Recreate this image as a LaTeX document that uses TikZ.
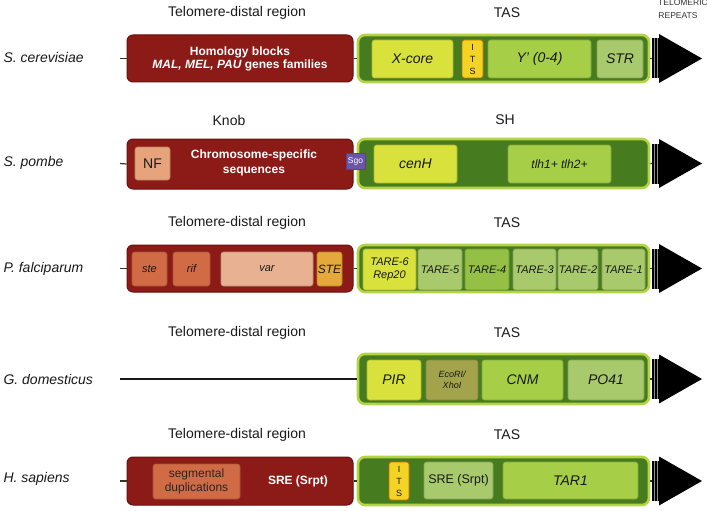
\documentclass[tikz,border=0pt]{standalone}
\usepackage{fontspec}
\setmainfont{Liberation Sans}
\definecolor{redfill}{HTML}{8C1B17}
\definecolor{reddraw}{HTML}{6A0F0C}
\definecolor{grfill}{HTML}{467C1F}
\definecolor{grdraw}{HTML}{B4D446}
\definecolor{ygreen}{HTML}{D9E13C}
\definecolor{mgreen}{HTML}{A6CE46}
\definecolor{pgreen}{HTML}{A8C96C}
\definecolor{dgreen}{HTML}{93C045}
\definecolor{itsyel}{HTML}{F3D424}
\definecolor{olive}{HTML}{A3A34B}
\definecolor{salmon}{HTML}{E7A37C}
\definecolor{rust}{HTML}{D06B46}
\definecolor{peach}{HTML}{E8B192}
\definecolor{steorg}{HTML}{E5A83A}
\definecolor{sgo}{HTML}{6B55A5}
\definecolor{linec}{HTML}{34361A}
\tikzset{
  redbox/.style={draw=reddraw, fill=redfill, line width=1pt, rounded corners=6pt, inner sep=0pt, align=center, text=white, font=\fontsize{12}{14}\selectfont\bfseries},
  grbox/.style={draw=grdraw, fill=grfill, line width=2.6pt, rounded corners=7pt, inner sep=0pt},
  inbox/.style={rounded corners=2.5pt, line width=0.6pt, inner sep=0pt, align=center, text=black!90, font=\fontsize{14}{16}\selectfont\itshape},
  yg/.style={inbox, fill=ygreen, draw=ygreen!80!black},
  mg/.style={inbox, fill=mgreen, draw=mgreen!80!black},
  pg/.style={inbox, fill=pgreen, draw=pgreen!80!black},
  dg/.style={inbox, fill=dgreen, draw=dgreen!80!black},
  itsbox/.style={inbox, fill=itsyel, draw=orange!80!black, font=\fontsize{9}{12}\selectfont},
  olbox/.style={inbox, fill=olive, draw=olive!80!black, font=\fontsize{9}{10.5}\selectfont\itshape},
  salbox/.style={inbox, fill=salmon, draw=salmon!80!black, font=\fontsize{14}{16}\selectfont},
  rustbox/.style={inbox, fill=rust, draw=rust!80!black, font=\fontsize{11}{13}\selectfont\itshape},
  peachbox/.style={inbox, fill=peach, draw=peach!80!black, font=\fontsize{11}{13}\selectfont\itshape},
  stebox/.style={inbox, fill=steorg, draw=steorg!80!black, font=\fontsize{12}{14}\selectfont\itshape},
  sgobox/.style={fill=sgo, draw=sgo!80!black, line width=0.4pt, inner sep=0pt, text=white, font=\fontsize{8.5}{9}\selectfont},
  head/.style={font=\fontsize{14}{16}\selectfont, text=black!90},
  species/.style={anchor=west, font=\fontsize{14}{16}\selectfont\itshape, text=black!90},
  conn/.style={draw=linec, line width=1.2pt},
  tare/.style={font=\fontsize{11}{13}\selectfont\itshape}
}
\newcommand{\mybox}[7][]{\node[#1, minimum width={#5-#3}, minimum height={#6-#4}] (#2) at ({(#3+#5)/2},{(#4+#6)/2}) {#7};}
\newcommand{\telarrow}[2]{%
  \coordinate (#1) at (652,#2);
  \fill[black] (652,#2-20) rectangle (659,#2+20);
  \draw[black!45, line width=0.5pt] (654.5,#2-20) -- (654.5,#2+20) (657,#2-20) -- (657,#2+20);
  \fill[black] (659,#2-24.5) -- (702,#2) -- (659,#2+24.5) -- cycle;
}
\begin{document}
\begin{tikzpicture}[x=1pt,y=-1pt]
\useasboundingbox (0,0) rectangle (707,511);

% ---------- header labels ----------
\node[font=\fontsize{8.5}{9}\selectfont, text=black!80] (telo1) at (683,3) {TELOMERIC};
\node[font=\fontsize{8.5}{9}\selectfont, text=black!80] (telo2) at (678,15.5) {REPEATS};

% ================= Row 1: S. cerevisiae =================
\node[species] (sp1) at (0,57) {S. cerevisiae};
\node[head] (h1a) at (237,13) {Telomere-distal region};
\node[head] (h1b) at (507,13) {TAS};
\coordinate (l1) at (120,58.5);
\telarrow{a1}{58.5}
\mybox[redbox]{r1}{127}{35}{353}{82}{Homology blocks\\[-1pt]{\itshape MAL, MEL, PAU} genes families}
\mybox[grbox]{g1}{358}{35}{649}{82}{}
\draw[conn] (l1) -- (r1.west) (r1.east) -- (g1.west) (g1.east) -- (a1);
\mybox[yg]{x1}{372}{40}{453}{78}{X-core}
\mybox[itsbox]{its1}{462}{40}{483}{78}{I\\T\\S}
\mybox[mg]{y1}{488}{40}{591}{78}{Y' (0-4)}
\mybox[pg]{str1}{597}{40}{643}{78}{STR}

% ================= Row 2: S. pombe =================
\node[species] (sp2) at (0,163) {S. pombe};
\node[head] (h2a) at (229,120) {Knob};
\node[head] (h2b) at (505,120) {SH};
\coordinate (l2) at (120,163.5);
\telarrow{a2}{163.5}
\mybox[redbox]{r2}{127}{139}{353}{189}{}
\mybox[grbox]{g2}{358}{139}{649}{188}{}
\draw[conn] (l2) -- (r2.west) (g2.east) -- (a2);
\mybox[salbox]{nf}{135}{147}{170}{180}{NF}
\node[text=white, align=center, font=\fontsize{12}{15}\selectfont\bfseries] (css) at (254,163) {Chromosome-specific\\sequences};
\mybox[yg]{cenh}{374}{145}{457}{183}{cenH}
\mybox[mg, font=\fontsize{12}{14}\selectfont\itshape]{tlh}{508}{145}{611}{183}{tlh1+ tlh2+}
\mybox[sgobox]{sgo}{346}{153}{365}{169}{Sgo}

% ================= Row 3: P. falciparum =================
\node[species] (sp3) at (0,269) {P. falciparum};
\node[head] (h3a) at (237,223) {Telomere-distal region};
\node[head] (h3b) at (507,223) {TAS};
\coordinate (l3) at (120,268.5);
\telarrow{a3}{268.5}
\mybox[redbox]{r3}{127}{245}{353}{292}{}
\mybox[grbox]{g3}{358}{245}{649}{292}{}
\draw[conn] (l3) -- (r3.west) (r3.east) -- (g3.west) (g3.east) -- (a3);
\mybox[rustbox]{ste}{132}{252}{167}{286}{ste}
\mybox[rustbox]{rif}{173}{252}{210}{286}{rif}
\mybox[peachbox]{var}{221}{252}{313}{286}{var}
\mybox[stebox]{STE}{317}{252}{342}{286}{STE}
\mybox[yg, tare]{t6}{363}{249}{416}{290}{TARE-6\\Rep20}
\mybox[pg, tare]{t5}{418}{249}{462}{290}{TARE-5}
\mybox[dg, tare]{t4}{465}{249}{509}{290}{TARE-4}
\mybox[pg, tare]{t3}{513}{249}{556}{290}{TARE-3}
\mybox[pg, tare]{t2}{558}{249}{598}{290}{TARE-2}
\mybox[pg, tare]{t1}{602}{249}{645}{290}{TARE-1}

% ================= Row 4: G. domesticus =================
\node[species] (sp4) at (0,379) {G. domesticus};
\node[head] (h4a) at (237,333) {Telomere-distal region};
\node[head] (h4b) at (507,333) {TAS};
\coordinate (l4) at (120,379);
\telarrow{a4}{379}
\mybox[grbox]{g4}{358}{354}{649}{404}{}
\draw[conn, line width=1.8pt, draw=black!90] (l4) -- (g4.west);
\draw[conn] (g4.east) -- (a4);
\mybox[yg]{pir}{367}{360}{421}{400}{PIR}
\mybox[olbox]{eco}{426}{360}{478}{400}{EcoRI/\\XhoI}
\mybox[mg]{cnm}{482}{360}{563}{400}{CNM}
\mybox[pg]{po41}{568}{360}{644}{400}{PO41}

% ================= Row 5: H. sapiens =================
\node[species] (sp5) at (0,479) {H. sapiens};
\node[head] (h5a) at (237,435) {Telomere-distal region};
\node[head] (h5b) at (507,435) {TAS};
\coordinate (l5) at (120,481);
\telarrow{a5}{481}
\mybox[redbox]{r5}{127}{457}{353}{505}{}
\mybox[grbox]{g5}{358}{457}{649}{505}{}
\draw[conn] (l5) -- (r5.west) (r5.east) -- (g5.west) (g5.east) -- (a5);
\mybox[rustbox, font=\fontsize{12}{14}\selectfont, text=black!85]{seg}{153}{464}{240}{499}{segmental\\duplications}
\node[text=white, font=\fontsize{12}{14}\selectfont\bfseries] (sre) at (298,481) {SRE (Srpt)};
\mybox[itsbox]{its5}{389}{462}{409}{500}{I\\T\\S}
\mybox[pg, font=\fontsize{12.5}{14}\selectfont]{srein}{424}{462}{493}{499}{SRE (Srpt)}
\mybox[mg]{tar1}{503}{462}{638}{499}{TAR1}
\end{tikzpicture}
\end{document}
